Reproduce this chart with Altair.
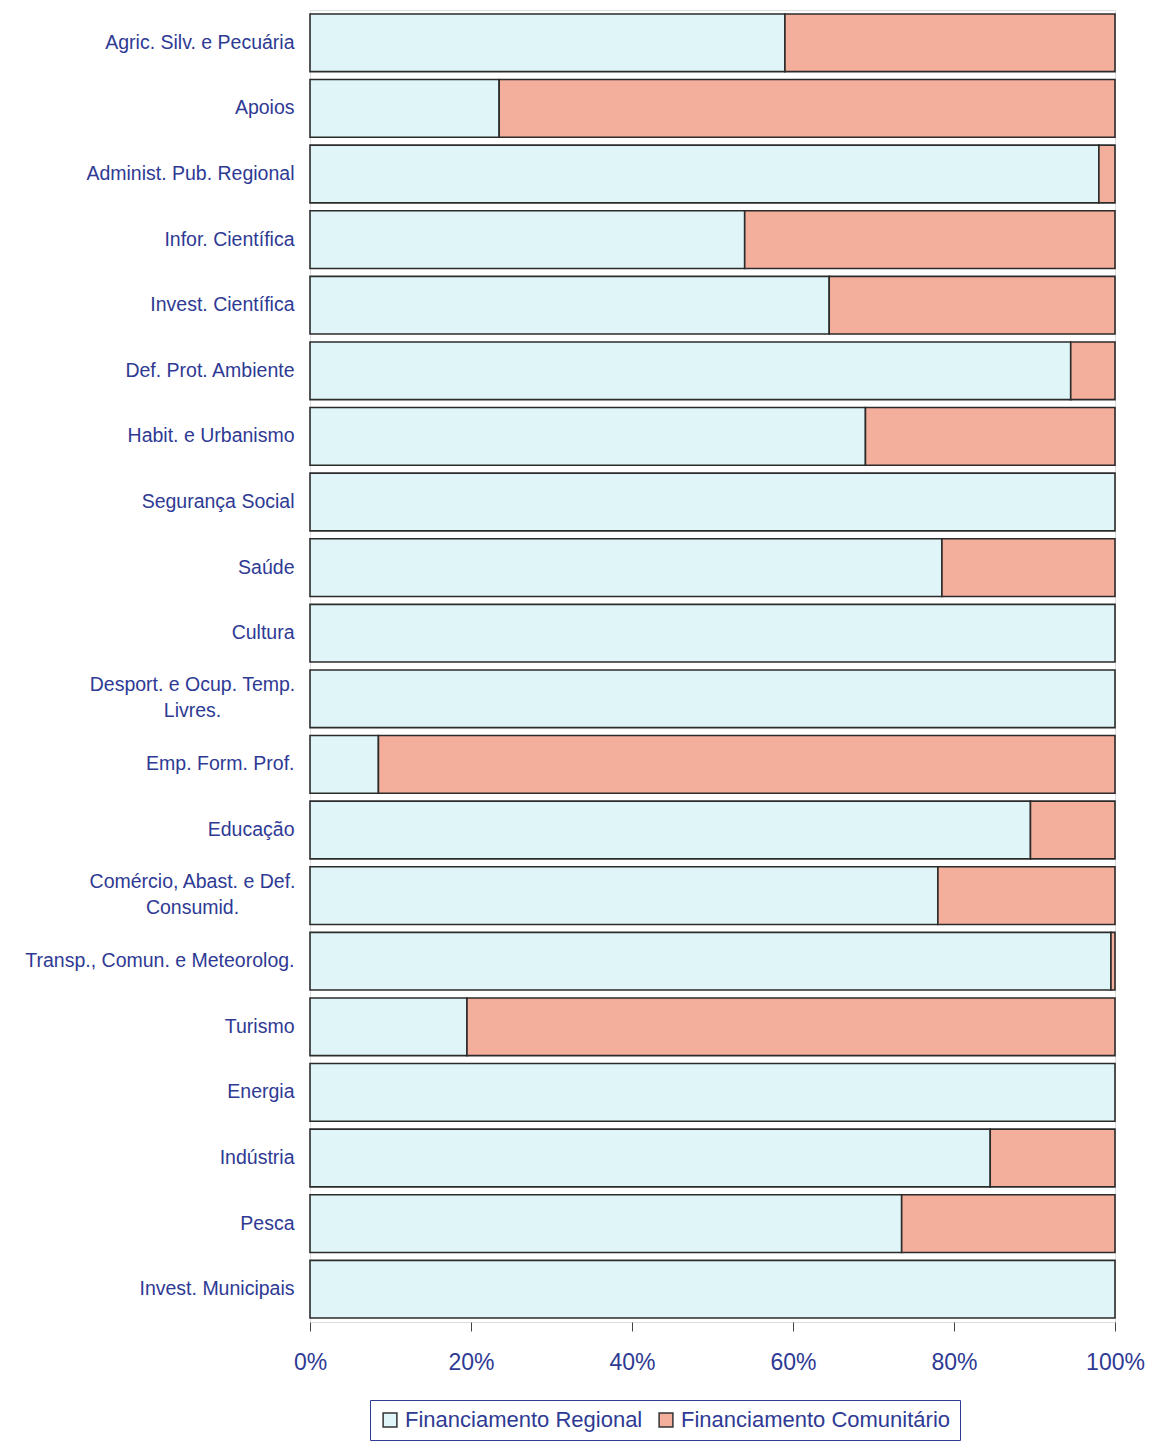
import altair as alt
import pandas as pd

# Sectors, top to bottom; "|" marks a line break in the axis label
setores = [
    "Agric. Silv. e Pecuária",
    "Apoios",
    "Administ. Pub. Regional",
    "Infor. Científica",
    "Invest. Científica",
    "Def. Prot. Ambiente",
    "Habit. e Urbanismo",
    "Segurança Social",
    "Saúde",
    "Cultura",
    "Desport. e Ocup. Temp.|Livres.",
    "Emp. Form. Prof.",
    "Educação",
    "Comércio, Abast. e Def.|Consumid.",
    "Transp., Comun. e Meteorolog.",
    "Turismo",
    "Energia",
    "Indústria",
    "Pesca",
    "Invest. Municipais",
]

# Share of each funding source (%)
regional = [59, 23.5, 98, 54, 64.5, 94.5, 69, 100, 78.5, 100,
            100, 8.5, 89.5, 78, 99.5, 19.5, 100, 84.5, 73.5, 100]
comunitario = [41, 76.5, 2, 46, 35.5, 5.5, 31, 0, 21.5, 0,
               0, 91.5, 10.5, 22, 0.5, 80.5, 0, 15.5, 26.5, 0]

fontes = ["Financiamento Regional", "Financiamento Comunitário"]
cores = ["#dff5f8", "#f4ae9c"]

azul = "#2e3a94"
fonte_txt = "Liberation Sans"

rows = []
for s, r, c in zip(setores, regional, comunitario):
    rows.append({"setor": s, "fonte": fontes[0], "ordem": 0, "pct": r})
    rows.append({"setor": s, "fonte": fontes[1], "ordem": 1, "pct": c})
df = pd.DataFrame(rows)
df = df[df["pct"] > 0]

# two-line labels are centred as a block and lifted to the bar's middle
duas_linhas = "indexof(datum.label, '|') >= 0"

chart = alt.Chart(df).mark_bar(stroke="#2b2b2b", strokeWidth=1.6).encode(
    y=alt.Y(
        "setor:N",
        sort=setores,
        scale=alt.Scale(paddingInner=0.12, paddingOuter=0.06),
        axis=alt.Axis(
            title=None,
            labelExpr="split(datum.label, '|')",
            labelFont=fonte_txt,
            labelFontSize=19.5,
            labelColor=azul,
            labelLineHeight=26,
            labelLimit=320,
            labelAlign={"condition": {"test": duas_linhas, "value": "center"}, "value": "right"},
            labelPadding={"condition": {"test": duas_linhas, "value": 118}, "value": 16},
            labelOffset={"condition": {"test": duas_linhas, "value": -14}, "value": 0},
            ticks=False,
            domain=False,
        ),
    ),
    x=alt.X(
        "pct:Q",
        stack="zero",
        scale=alt.Scale(domain=[0, 100], nice=False),
        axis=alt.Axis(
            title=None,
            values=[0, 20, 40, 60, 80, 100],
            labelExpr="datum.value + '%'",
            labelFont=fonte_txt,
            labelFontSize=23,
            labelColor=azul,
            labelPadding=20,
            labelFlush=False,
            tickSize=9,
            tickColor="#444444",
            domain=False,
            grid=False,
        ),
    ),
    color=alt.Color(
        "fonte:N",
        scale=alt.Scale(domain=fontes, range=cores),
        legend=alt.Legend(
            title=None,
            orient="none",
            legendX=60,
            legendY=1390,
            direction="horizontal",
            symbolType="square",
            symbolSize=190,
            symbolStrokeColor="#333333",
            symbolStrokeWidth=1.5,
            labelFont=fonte_txt,
            labelFontSize=22,
            labelColor=azul,
            labelLimit=400,
            labelOffset=4,
            columnPadding=12,
            strokeColor=azul,
            padding=9,
        ),
    ),
    order=alt.Order("ordem:Q"),
).properties(
    width=805,
    height=1312,
    autosize=alt.AutoSizeParams(type="none"),
    padding={"left": 310, "top": 10, "right": 35, "bottom": 121},
).configure_view(stroke=None).configure(background="white")

chart.save("out.html", embed_options={"renderer": "svg", "actions": False})
